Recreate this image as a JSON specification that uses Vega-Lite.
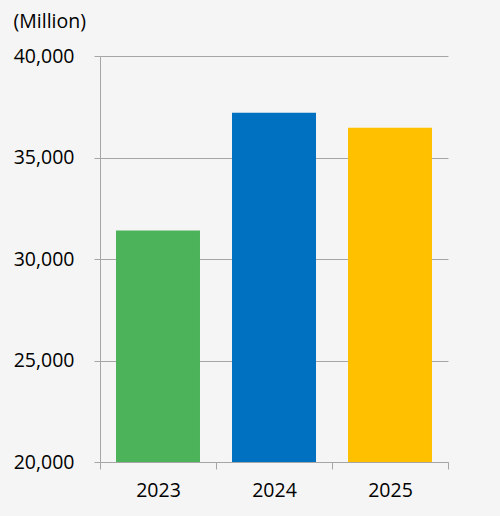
{
  "$schema": "https://vega.github.io/schema/vega-lite/v6.json",
  "width": 348,
  "height": 406,
  "autosize": {"type": "none"},
  "padding": {"left": 100, "top": 56, "right": 52, "bottom": 54},
  "background": "#f5f5f5",
  "data": {
    "values": [
      {"year": "2023", "value": 31400},
      {"year": "2024", "value": 37200},
      {"year": "2025", "value": 36470}
    ]
  },
  "mark": {"type": "bar", "clip": true, "width": {"band": 0.724}},
  "encoding": {
    "x": {
      "field": "year",
      "type": "nominal",
      "sort": null,
      "scale": {"paddingInner": 0, "paddingOuter": 0},
      "axis": {
        "title": null,
        "labelAngle": 0,
        "tickBand": "extent",
        "tickSize": 7,
        "labelPadding": 12,
        "domainColor": "#a6a6a6",
        "tickColor": "#a6a6a6",
        "grid": false
      }
    },
    "y": {
      "field": "value",
      "type": "quantitative",
      "scale": {"domain": [20000, 40000], "nice": false, "zero": false},
      "axis": {
        "values": [20000, 25000, 30000, 35000, 40000],
        "format": ",.0f",
        "title": "(Million)",
        "titleAngle": 0,
        "titleX": -87,
        "titleY": -35,
        "titleAlign": "left",
        "titleBaseline": "middle",
        "titleFontWeight": "normal",
        "titleFontSize": 19.5,
        "titleColor": "#000000",
        "tickSize": 6,
        "labelPadding": 20,
        "domainColor": "#a6a6a6",
        "tickColor": "#a6a6a6",
        "gridColor": "#a6a6a6",
        "grid": true
      }
    },
    "color": {
      "field": "year",
      "type": "nominal",
      "scale": {"domain": ["2023", "2024", "2025"], "range": ["#4db35b", "#0070c0", "#ffc000"]},
      "legend": null
    }
  },
  "config": {
    "font": "Open Sans",
    "view": {"stroke": null},
    "axis": {
      "labelFont": "Open Sans",
      "labelFontSize": 19.5,
      "labelColor": "#000000",
      "titleFont": "Open Sans",
      "domainWidth": 1,
      "tickWidth": 1,
      "gridWidth": 1
    }
  }
}
